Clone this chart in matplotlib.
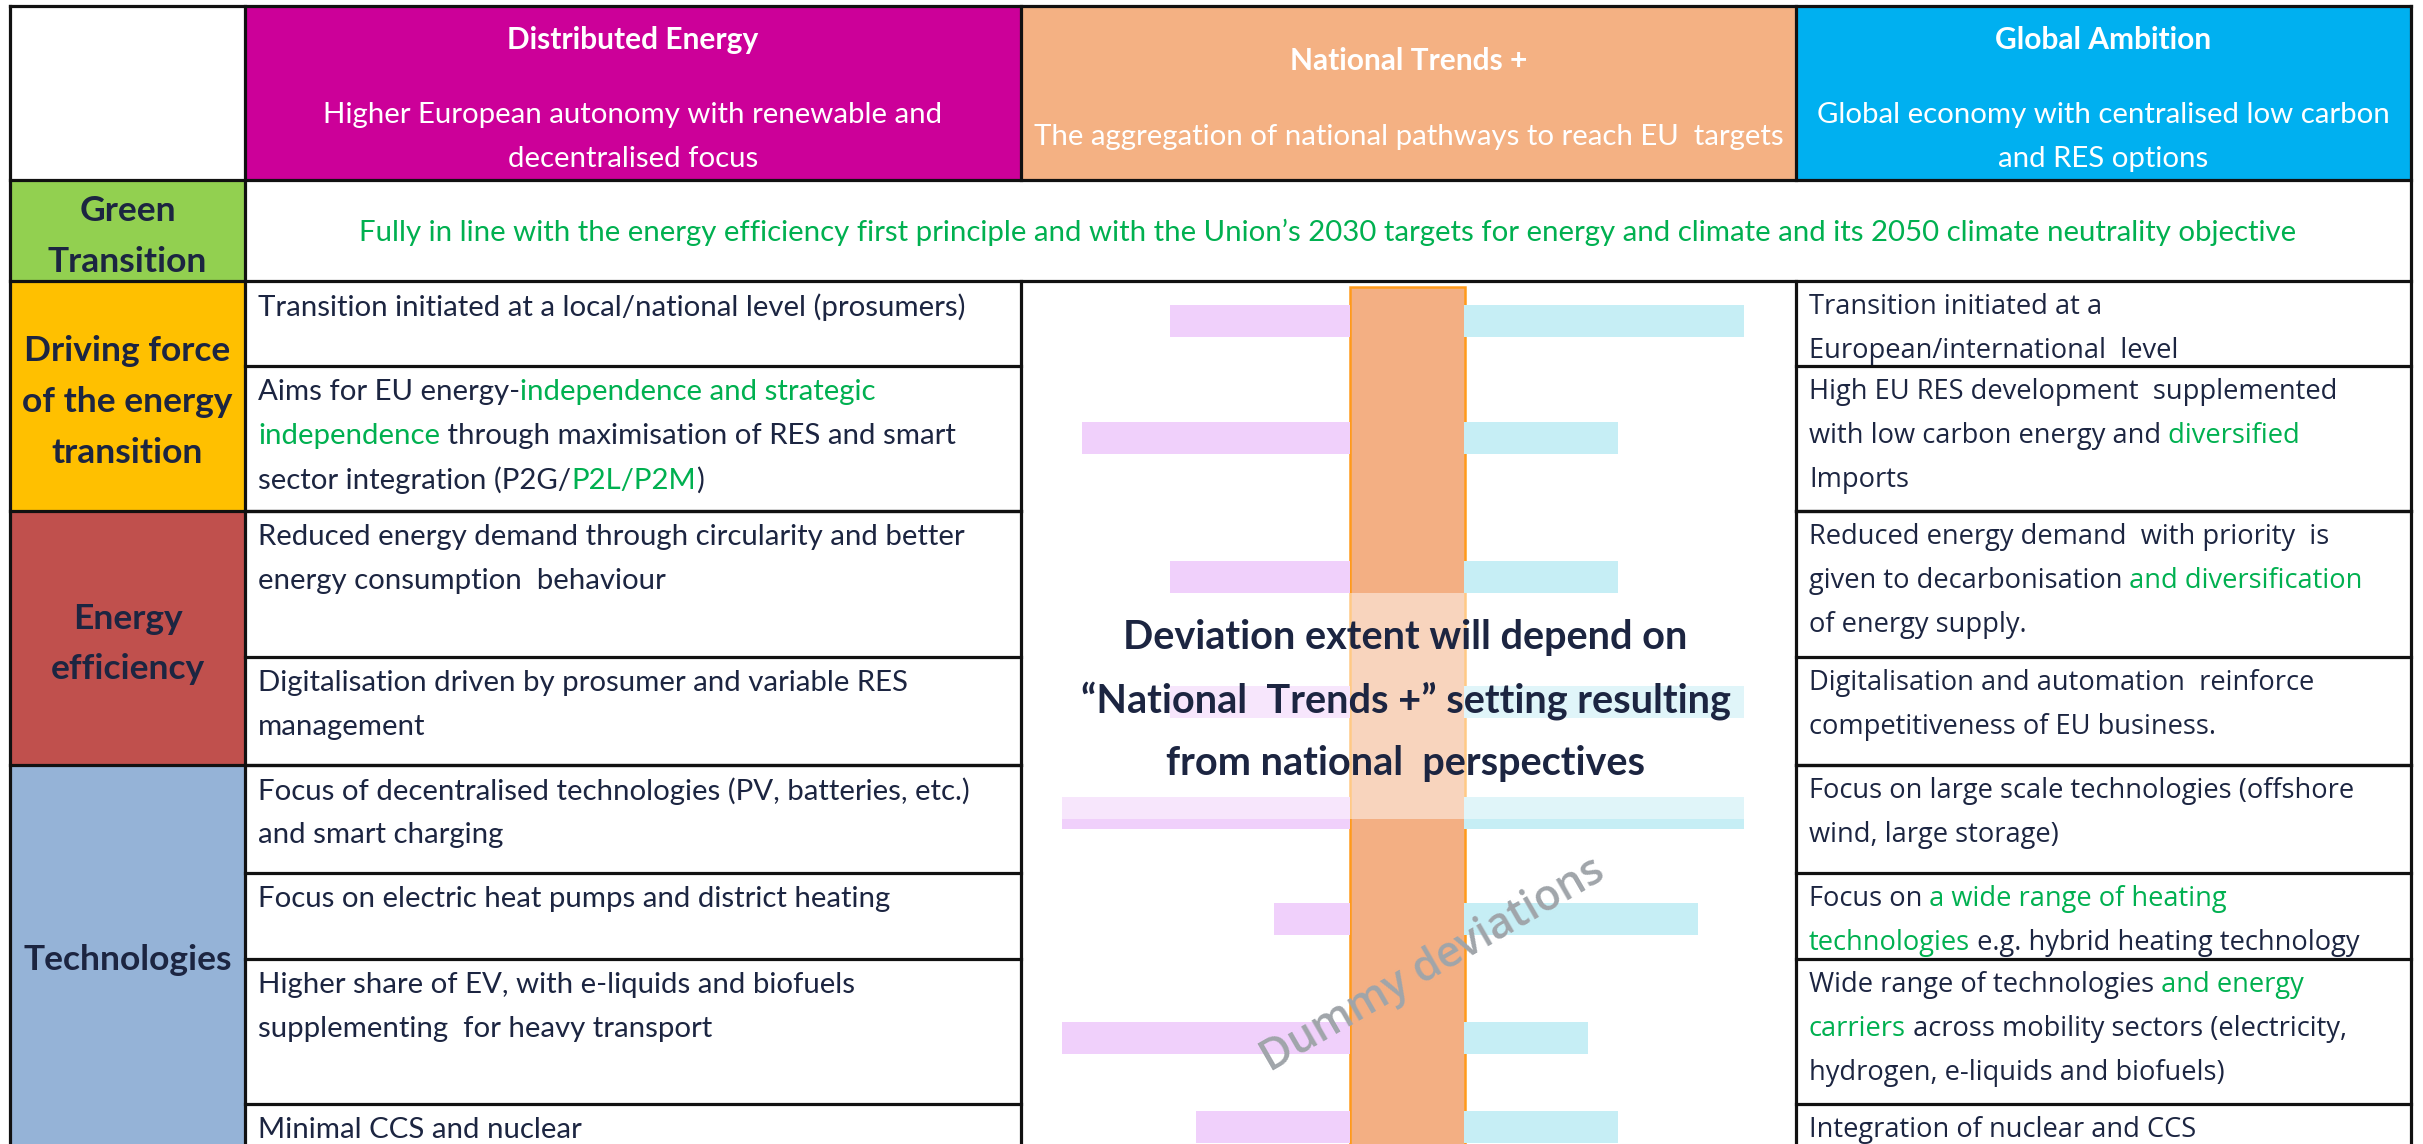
import re
import matplotlib.pyplot as plt
from matplotlib.patches import Rectangle

# ── data ─────────────────────────────────────────────────────────────────────
scenarios     = ['Distributed Energy', 'National Trends +', 'Global Ambition']
scenario_desc = [['Higher European autonomy with renewable and', 'decentralised focus'],
                 ['The aggregation of national pathways to reach EU  targets'],
                 ['Global economy with centralised low carbon', 'and RES options']]
scenario_cols = ['#CC0099', '#F4B183', '#00B0F0']

themes      = ['Green\nTransition', 'Driving force\nof the energy\ntransition',
               'Energy\nefficiency', 'Technologies']
theme_cols  = ['#92D050', '#FFC000', '#C0504D', '#95B3D7']
green_note  = ('Fully in line with the energy efficiency first principle and with the Union\u2019s '
               '2030 targets for energy and climate and its 2050 climate neutrality objective')

# text in [brackets] is drawn in green
de_cells = [
    ['Transition initiated at a local/national level (prosumers)'],
    ['Aims for EU energy-[independence and strategic]',
     '[independence] through maximisation of RES and smart',
     'sector integration (P2G/[P2L/P2M])'],
    ['Reduced energy demand through circularity and better',
     'energy consumption  behaviour'],
    ['Digitalisation driven by prosumer and variable RES', 'management'],
    ['Focus of decentralised technologies (PV, batteries, etc.)', 'and smart charging'],
    ['Focus on electric heat pumps and district heating'],
    ['Higher share of EV, with e-liquids and biofuels', 'supplementing  for heavy transport'],
    ['Minimal CCS and nuclear'],
]
ga_cells = [
    ['Transition initiated at a', 'European/international  level'],
    ['High EU RES development  supplemented', 'with low carbon energy and [diversified]', 'Imports'],
    ['Reduced energy demand  with priority  is', 'given to decarbonisation [and diversification]',
     'of energy supply.'],
    ['Digitalisation and automation  reinforce', 'competitiveness of EU business.'],
    ['Focus on large scale technologies (offshore', 'wind, large storage)'],
    ['Focus on [a wide range of heating]', '[technologies] e.g. hybrid heating technology'],
    ['Wide range of technologies [and energy]', '[carriers] across mobility sectors (electricity,',
     'hydrogen, e-liquids and biofuels)'],
    ['Integration of nuclear and CCS'],
]

# dummy deviations from National Trends + (towards DE on the left, GA on the right)
dev_de = [18.0, 26.8, 18.0, 18.0, 28.8, 7.6, 28.8, 15.4]
dev_ga = [28.0, 15.4, 15.4, 28.0, 28.0, 23.4, 12.4, 15.4]
middle_note = ['Deviation extent will depend on', '\u201cNational  Trends +\u201d setting resulting',
               'from national  perspectives']

# ── layout (pixels) ──────────────────────────────────────────────────────────
W, H   = 2423, 1144
xs     = [10, 245, 1021, 1796, 2411]
y_top, y_head, y_green = 6, 180, 281
rows   = [281, 366, 511, 657, 765, 873, 959, 1104, 1170]
theme_rows = [(281, 511), (511, 765), (765, 1170)]
bar_y  = [321, 438, 577, 702, 813, 919, 1038, 1127]
band   = (1350, 1465)
scale  = 10.0

NAVY, GREEN = '#1C2541', '#00B050'
PURPLE, CYAN = '#F0D0FB', '#C6EEF5'
LW = 2.3

fig = plt.figure(figsize=(W / 100, H / 100), dpi=100)
ax = fig.add_axes([0, 0, 1, 1])
ax.set_xlim(0, W)
ax.set_ylim(H, 0)
ax.axis('off')


def rich_line(x, y, line, size, family, color):
    parts = [p for p in re.split(r'(\[.*?\])', line) if p]
    prev, carry = None, ''
    for p in parts:
        col = GREEN if p.startswith('[') else color
        s = carry + p.strip('[]')
        carry = s[len(s.rstrip()):]
        s = s.rstrip()
        kw = dict(fontsize=size, family=family, color=col, zorder=6)
        if prev is None:
            prev = ax.text(x, y, s, ha='left', va='center', **kw)
        else:
            prev = ax.annotate(s, xy=(1, 0), xycoords=prev, ha='left', va='bottom', **kw)


# ── header ───────────────────────────────────────────────────────────────────
for i, (name, desc, col) in enumerate(zip(scenarios, scenario_desc, scenario_cols)):
    x0, x1 = xs[i + 1], xs[i + 2]
    ax.add_patch(Rectangle((x0, y_top), x1 - x0, y_head - y_top, color=col, zorder=0))
    cx = (x0 + x1) / 2
    if len(desc) == 2:
        ax.text(cx, 40, name, ha='center', va='center', color='white', fontsize=21.5,
                family='Lato', weight='bold')
        for k, d in enumerate(desc):
            ax.text(cx, 115 + 44 * k, d, ha='center', va='center', color='white',
                    fontsize=21.2, family='Lato')
    else:
        ax.text(cx, 61, name, ha='center', va='center', color='white', fontsize=21.5,
                family='Lato', weight='bold')
        ax.text(cx, 137, desc[0], ha='center', va='center', color='white',
                fontsize=21.2, family='Lato')

# ── theme labels ─────────────────────────────────────────────────────────────
label_rows = [(y_head, y_green)] + theme_rows
for t, col, (r0, r1) in zip(themes, theme_cols, label_rows):
    ax.add_patch(Rectangle((xs[0], r0), xs[1] - xs[0], r1 - r0, color=col, zorder=0))
    cy = (r0 + r1) / 2 + 6 if r1 < 1100 else 960
    ax.text((xs[0] + xs[1]) / 2, cy, t, ha='center', va='center', color=NAVY,
            fontsize=25.5, family='Lato', weight='bold', linespacing=1.72)

ax.text((xs[1] + xs[4]) / 2, 232, green_note, ha='center', va='center', color=GREEN,
        fontsize=21.2, family='Lato')

# ── cell texts ───────────────────────────────────────────────────────────────
for k in range(len(de_cells)):
    for j, line in enumerate(de_cells[k]):
        rich_line(xs[1] + 13, rows[k] + 26 + 44 * j, line, 21.2, 'Lato', NAVY)
    for j, line in enumerate(ga_cells[k]):
        rich_line(xs[3] + 13, rows[k] + 26 + 44 * j, line, 19.6, 'Open Sans', NAVY)

# ── middle column: NT+ band with dummy deviations ───────────────────────────
ax.add_patch(Rectangle((band[0], 287), band[1] - band[0], 900, facecolor='#F3AF83',
                       edgecolor='#FF9A1A', lw=1.8, zorder=1))
ax.barh(bar_y, [-d * scale for d in dev_de], left=band[0], height=32,
        color=PURPLE, zorder=2)
ax.barh(bar_y, [d * scale for d in dev_ga], left=band[1] - 1, height=32,
        color=CYAN, zorder=2)
ax.add_patch(Rectangle((xs[2] + 2, 593), xs[3] - xs[2] - 4, 226, color='white',
                       alpha=0.47, lw=0, zorder=3))
for k, line in enumerate(middle_note):
    ax.text((xs[2] + xs[3]) / 2 - 3, 638 + 62.5 * k, line, ha='center', va='center',
            color=NAVY, fontsize=28.5, family='Lato', weight='bold', zorder=5)
ax.text(1433, 965, 'Dummy deviations', ha='center', va='center', rotation=30,
        color='#A0A5AA', fontsize=31, family='Open Sans', weight='semibold', zorder=5)

# ── grid lines ───────────────────────────────────────────────────────────────
kw = dict(color='#111111', lw=LW, zorder=7, solid_capstyle='projecting')
for y in (y_top, y_head, y_green, 511, 765):
    if y in (511, 765):
        ax.plot([xs[0], xs[2]], [y, y], **kw)
        ax.plot([xs[3], xs[4]], [y, y], **kw)
    else:
        ax.plot([xs[0], xs[4]], [y, y], **kw)
for y in rows[1:-1]:
    ax.plot([xs[1], xs[2]], [y, y], **kw)
    ax.plot([xs[3], xs[4]], [y, y], **kw)
for x in (xs[0], xs[1], xs[4]):
    ax.plot([x, x], [y_top, H + 20], **kw)
for x in (xs[2], xs[3]):
    ax.plot([x, x], [y_top, y_head], **kw)
    ax.plot([x, x], [y_green, H + 20], **kw)

plt.savefig('out.png', dpi=100)
